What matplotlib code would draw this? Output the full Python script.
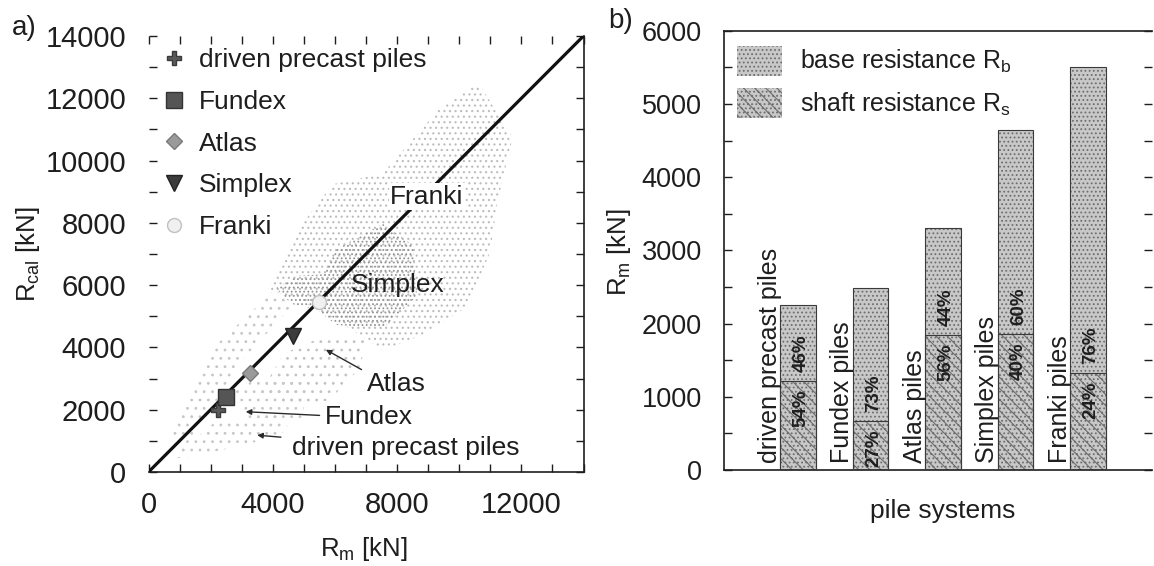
import matplotlib
matplotlib.use('Agg')
import matplotlib.pyplot as plt
from matplotlib.patches import Patch

# ---- data ----
# a) calculated vs. measured resistance, mean values per pile system
legend_names = ['driven precast piles', 'Fundex', 'Atlas', 'Simplex', 'Franki']
mean_rm = [2250, 2490, 3270, 4660, 5500]
mean_rcal = [2000, 2400, 3170, 4370, 5450]

# scatter clouds (outlines of the dotted areas)
franki_x = [3840, 4950, 5930, 7540, 9380, 10620, 11720, 11230, 10990, 10250, 8770, 7540, 6300, 4830]
franki_y = [5880, 7970, 9240, 9590, 11680, 12490, 10750, 8660, 7040, 5300, 4380, 3910, 4720, 5540]
simplex_x = [4100, 4800, 5600, 6060, 7540, 8520, 8640, 7540, 6060, 5440, 4600]
simplex_y = [5900, 6300, 6350, 7160, 7970, 7270, 5650, 4610, 4720, 5190, 5400]
atlas_x = [3600, 4340, 5690, 7040, 6800, 5810, 4580]
atlas_y = [2520, 3800, 4380, 4380, 3330, 2290, 2170]
fundex_x = [2610, 3840, 5080, 4950, 3230]
fundex_y = [2640, 3100, 2870, 1710, 1590]
precast_x = [760, 2120, 4090, 4580, 3230, 1380]
precast_y = [430, 1590, 1820, 1360, 900, 490]
upper_band_x = [640, 2120, 3230, 4090, 4580, 3100, 2120, 1010]
upper_band_y = [1250, 4030, 5070, 5880, 5300, 3680, 2170, 550]

axis_max = 14000

# b) measured resistance split into shaft and base part
pile_systems = ['driven precast piles', 'Fundex piles', 'Atlas piles',
                'Simplex piles', 'Franki piles']
r_m_total = [2250, 2490, 3300, 4650, 5510]
shaft_pct = [54, 27, 56, 40, 24]
base_pct = [46, 73, 44, 60, 76]

plt.rcParams['font.family'] = ['Liberation Sans', 'DejaVu Sans']
plt.rcParams['mathtext.fontset'] = 'custom'
plt.rcParams['mathtext.rm'] = 'Liberation Sans'
plt.rcParams['mathtext.it'] = 'Liberation Sans:italic'
plt.rcParams['hatch.linewidth'] = 0.8
ink = '#1e1e1e'
plt.rcParams['text.color'] = ink
plt.rcParams['axes.edgecolor'] = ink
plt.rcParams['xtick.color'] = ink
plt.rcParams['ytick.color'] = ink

W, H = 1154, 566
fig = plt.figure(figsize=(W / 100, H / 100), dpi=100)

# ---------------- a) ----------------
ax1 = fig.add_axes([148.5 / W, (H - 472) / H, 435 / W, 436 / H])

clouds = [(franki_x, franki_y, '#bcbcbc', '...'),
          (upper_band_x, upper_band_y, '#c6c6c6', '..'),
          (simplex_x, simplex_y, '#939393', '....'),
          (atlas_x, atlas_y, '#c2c2c2', '..'),
          (fundex_x, fundex_y, '#c8c8c8', '..'),
          (precast_x, precast_y, '#c6c6c6', '..')]
for cx, cy, col, hat in clouds:
    ax1.fill(cx, cy, facecolor='none', edgecolor=col, hatch=hat, linewidth=0, zorder=1)

ax1.plot([0, axis_max], [0, axis_max], color='#111111', lw=2.3, zorder=3)

marker_styles = [dict(marker='P', ms=10, mfc='#5a5a5a', mec='#3a3a3a'),
                 dict(marker='s', ms=12, mfc='#555555', mec='#333333'),
                 dict(marker='D', ms=8, mfc='#9a9a9a', mec='#7a7a7a'),
                 dict(marker='v', ms=12, mfc='#3c3c3c', mec='#222222'),
                 dict(marker='o', ms=10, mfc='#f0f0f0', mec='#c0c0c0')]
handles = []
for i in range(len(legend_names)):
    ln, = ax1.plot([mean_rm[i]], [mean_rcal[i]], linestyle='none', zorder=4,
                   label=legend_names[i], **marker_styles[i])
    handles.append(ln)

ax1.legend(handles=handles, loc='upper left', bbox_to_anchor=(0.028, 0.972),
           frameon=False, fontsize=19, borderpad=0, borderaxespad=0,
           handlelength=1.0, handletextpad=0.45, labelspacing=0.67)

ax1.text(8950, 8840, 'Franki', ha='center', va='center', fontsize=19, zorder=5,
         bbox=dict(facecolor='white', edgecolor='none', pad=1))
ax1.text(8030, 6000, 'Simplex', ha='center', va='center', fontsize=19, zorder=5)
arrow = dict(arrowstyle='-|>', color='#2a2a2a', lw=1.0, mutation_scale=8)
ax1.annotate('Atlas', xy=(5630, 3970), xytext=(7970, 2810), ha='center', va='center',
             fontsize=19, arrowprops=dict(relpos=(0, 1), shrinkA=2, **arrow))
ax1.annotate('Fundex', xy=(3040, 1940), xytext=(7100, 1770), ha='center', va='center',
             fontsize=19, arrowprops=dict(relpos=(0, 0.55), shrinkA=2, **arrow))
ax1.annotate('driven precast piles', xy=(3410, 1190), xytext=(8280, 780), ha='center',
             va='center', fontsize=19, arrowprops=dict(relpos=(0, 0.9), shrinkA=6, **arrow))

ax1.set_xlim(0, axis_max)
ax1.set_ylim(0, axis_max)
ax1.set_xticks([0, 4000, 8000, 12000])
ax1.set_xticks(range(0, axis_max + 1, 1000), minor=True)
ax1.set_yticks(range(0, axis_max + 1, 2000))
ax1.set_yticks(range(0, axis_max + 1, 1000), minor=True)
ax1.tick_params(which='both', direction='in', top=True, right=True, length=6, width=1)
ax1.tick_params(axis='x', pad=14, labelsize=21)
ax1.tick_params(axis='y', pad=16, labelsize=21)
for s in ['left', 'top']:
    ax1.spines[s].set_visible(False)
ax1.spines['right'].set_linewidth(1.2)
ax1.spines['bottom'].set_linewidth(1.2)
ax1.text(-0.277, 0.5, r'R$_{\mathrm{cal}}$ [kN]', transform=ax1.transAxes, rotation=90,
         ha='center', va='center', fontsize=18.5)
ax1.text(0.495, -0.177, r'R$_{\mathrm{m}}$ [kN]', transform=ax1.transAxes,
         ha='center', va='center', fontsize=18.5)

# ---------------- b) ----------------
ax2 = fig.add_axes([724 / W, (H - 470) / H, 428 / W, 439.3 / H])
xpos = list(range(len(pile_systems)))
shaft = [t * p / 100 for t, p in zip(r_m_total, shaft_pct)]
base = [t - s for t, s in zip(r_m_total, shaft)]

bar_face = '#c8c8c8'
ax2.bar(xpos, shaft, width=0.49, color=bar_face, edgecolor='#6e6e6e', hatch='\\\\\\....',
        linewidth=0, zorder=2)
ax2.bar(xpos, base, width=0.49, bottom=shaft, color=bar_face, edgecolor='#6e6e6e',
        hatch='....', linewidth=0, zorder=2)
ax2.bar(xpos, r_m_total, width=0.49, fill=False, edgecolor='#3a3a3a', linewidth=0.8, zorder=3)
ax2.bar(xpos, shaft, width=0.49, fill=False, edgecolor='#3a3a3a', linewidth=0.8, zorder=3)

gap = 120
for i in xpos:
    ax2.text(i + 0.04, shaft[i] - gap, '%d%%' % shaft_pct[i], rotation=90, ha='center',
             va='top', fontsize=13.5, fontweight='bold', zorder=4)
    ax2.text(i + 0.04, shaft[i] + gap, '%d%%' % base_pct[i], rotation=90, ha='center',
             va='bottom', fontsize=13.5, fontweight='bold', zorder=4)
    ax2.text(i - 0.39, 100, pile_systems[i], rotation=90, ha='center', va='bottom',
             fontsize=18, zorder=4)

leg_handles = [Patch(facecolor=bar_face, edgecolor='#6e6e6e', hatch='....'),
               Patch(facecolor=bar_face, edgecolor='#6e6e6e', hatch='\\\\\\....')]
leg = ax2.legend(leg_handles, [r'base resistance R$_{\mathrm{b}}$',
                               r'shaft resistance R$_{\mathrm{s}}$'],
                 loc='upper left', bbox_to_anchor=(0.0297, 0.965), frameon=False,
                 fontsize=18, borderpad=0, borderaxespad=0, handlelength=1.8,
                 handleheight=1.45, handletextpad=0.73, labelspacing=0.5)
for p in leg.get_patches():
    p.set_linewidth(0)

ax2.set_xlim(-1.02, 4.88)
ax2.set_ylim(0, 6000)
ax2.set_xticks([])
ax2.set_yticks(range(0, 6001, 1000))
ax2.set_yticks(range(500, 6000, 1000), minor=True)
ax2.tick_params(axis='y', which='both', direction='in', right=True, length=6, width=1,
                labelsize=19.5, pad=16)
ax2.spines['right'].set_visible(False)
for s in ['left', 'top', 'bottom']:
    ax2.spines[s].set_linewidth(1.2)
ax2.text(-0.245, 0.495, r'R$_{\mathrm{m}}$ [kN]', transform=ax2.transAxes, rotation=90,
         ha='center', va='center', fontsize=18.5)
ax2.text(0.512, -0.093, 'pile systems', transform=ax2.transAxes,
         ha='center', va='center', fontsize=19)

fig.text(24 / W, 1 - 28 / H, 'a)', ha='center', va='center', fontsize=20)
fig.text(621 / W, 1 - 21 / H, 'b)', ha='center', va='center', fontsize=20)

fig.savefig('out.png', dpi=100)
